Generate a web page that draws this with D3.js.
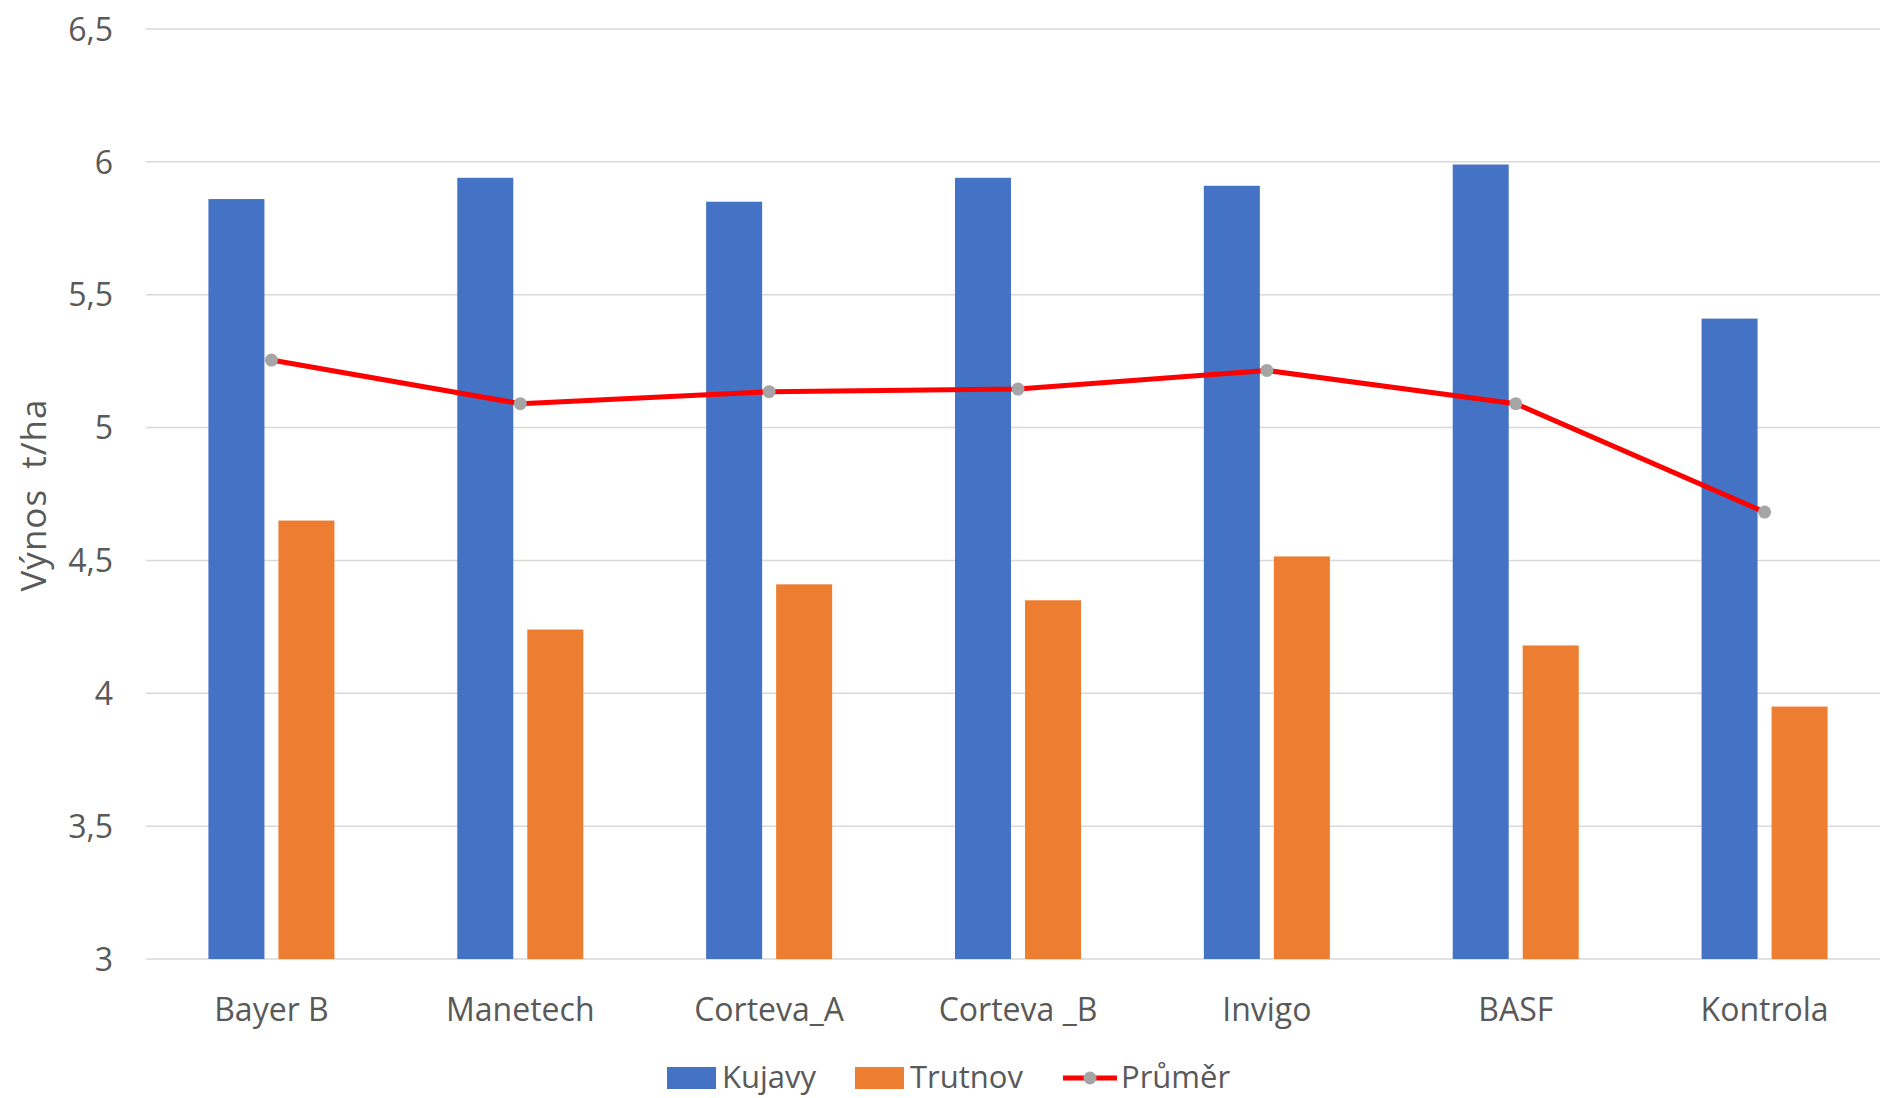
<!DOCTYPE html>
<html>
<head>
<meta charset="utf-8">
<script src="https://cdn.jsdelivr.net/npm/d3@7"></script>
<style>
  html, body { margin: 0; padding: 0; background: #fff; }
  svg { display: block; }
  text { font-family: "Open Sans", Lato, sans-serif; fill: #595959; }
</style>
</head>
<body>
<svg id="chart" width="1880" height="1098"></svg>
<script>
const categories = ["Bayer B", "Manetech", "Corteva_A", "Corteva _B", "Invigo", "BASF", "Kontrola"];
const kujavy  = [5.86, 5.94, 5.85, 5.94, 5.91, 5.99, 5.41];
const trutnov = [4.65, 4.24, 4.41, 4.35, 4.515, 4.18, 3.95];
const prumer  = [5.254, 5.09, 5.135, 5.145, 5.215, 5.09, 4.682];
const yTicks = [3, 3.5, 4, 4.5, 5, 5.5, 6, 6.5];
const seriesNames = ["Kujavy", "Trutnov", "Průměr"];
const yTitle = "Výnos  t/ha";

const colors = { Kujavy: "#4472C4", Trutnov: "#ED7D31", line: "#FF0000", marker: "#A5A5A5" };
const FONT = '"Open Sans", Lato, sans-serif';

const svg = d3.select("#chart");
const pLeft = 146, pRight = 1888, pTop = 29, pBottom = 959;

const y = d3.scaleLinear().domain([3, 6.5]).range([pBottom, pTop]);
const x = d3.scaleBand().domain(categories).range([pLeft + 1, pRight + 1]).paddingInner(0.4936).paddingOuter(0.2468);
const x1 = d3.scaleBand().domain(["Kujavy", "Trutnov"]).range([0, x.bandwidth()]).paddingInner(0.2);

// gridlines
svg.append("g").selectAll("line").data(yTicks).join("line")
  .attr("x1", pLeft).attr("x2", 1880)
  .attr("y1", d => y(d)).attr("y2", d => y(d))
  .attr("stroke", "#d9d9d9").attr("stroke-width", 1.5);

// y axis labels
const yAxis = d3.axisLeft(y).tickValues(yTicks).tickSize(0).tickPadding(0)
  .tickFormat(d => d3.format(".1~f")(d).replace(".", ","));
const yg = svg.append("g").attr("transform", `translate(113,0)`).call(yAxis);
yg.select(".domain").remove();
yg.selectAll("text").style("font-size", "32px").style("fill", "#595959")
  .style("font-family", FONT).attr("dy", "0.35em");

// bars
const data = categories.map((c, i) => ({ c, Kujavy: kujavy[i], Trutnov: trutnov[i], avg: prumer[i] }));
const groups = svg.append("g").selectAll("g").data(data).join("g")
  .attr("transform", d => `translate(${x(d.c)},0)`);
groups.selectAll("rect").data(d => ["Kujavy", "Trutnov"].map(k => ({ k, v: d[k] }))).join("rect")
  .attr("x", d => x1(d.k)).attr("width", x1.bandwidth())
  .attr("y", d => y(d.v)).attr("height", d => y(3) - y(d.v))
  .attr("fill", d => colors[d.k]);

// x axis labels
const xAxis = d3.axisBottom(x).tickSize(0).tickPadding(0);
const xg = svg.append("g").attr("transform", `translate(0,1010)`).call(xAxis);
xg.select(".domain").remove();
xg.selectAll("text").attr("dy", "0.35em").style("font-size", "32px").style("fill", "#595959")
  .style("font-family", FONT).style("white-space", "pre");

// average line
const cx = d => x(d.c) + x.bandwidth() / 2;
svg.append("path").datum(data)
  .attr("d", d3.line().x(cx).y(d => y(d.avg)))
  .attr("fill", "none").attr("stroke", colors.line).attr("stroke-width", 5)
  .attr("stroke-linejoin", "round");
svg.append("g").selectAll("circle").data(data).join("circle")
  .attr("cx", cx).attr("cy", d => y(d.avg)).attr("r", 6.5)
  .attr("fill", colors.marker);

// y title
svg.append("text").attr("transform", "translate(46,495) rotate(-90)")
  .attr("text-anchor", "middle").style("font-size", "35px").style("white-space", "pre")
  .style("letter-spacing", "1px").text(yTitle);

// legend
const leg = svg.append("g").attr("transform", "translate(0,1077)");
const legX = [667, 855, 1063];
seriesNames.forEach((name, i) => {
  const g = leg.append("g").attr("transform", `translate(${legX[i]},0)`);
  if (i < 2) {
    g.append("rect").attr("x", 0).attr("y", -10).attr("width", 49).attr("height", 22).attr("fill", colors[name]);
    g.append("text").attr("x", 55).attr("dy", "0.35em").style("font-size", "31px").text(name);
  } else {
    g.append("line").attr("x1", 0).attr("x2", 54).attr("y1", 1).attr("y2", 1)
      .attr("stroke", colors.line).attr("stroke-width", 5);
    g.append("circle").attr("cx", 27).attr("cy", 1).attr("r", 6.5).attr("fill", colors.marker);
    g.append("text").attr("x", 58).attr("dy", "0.35em").style("font-size", "31px").text(name);
  }
});
</script>
</body>
</html>
